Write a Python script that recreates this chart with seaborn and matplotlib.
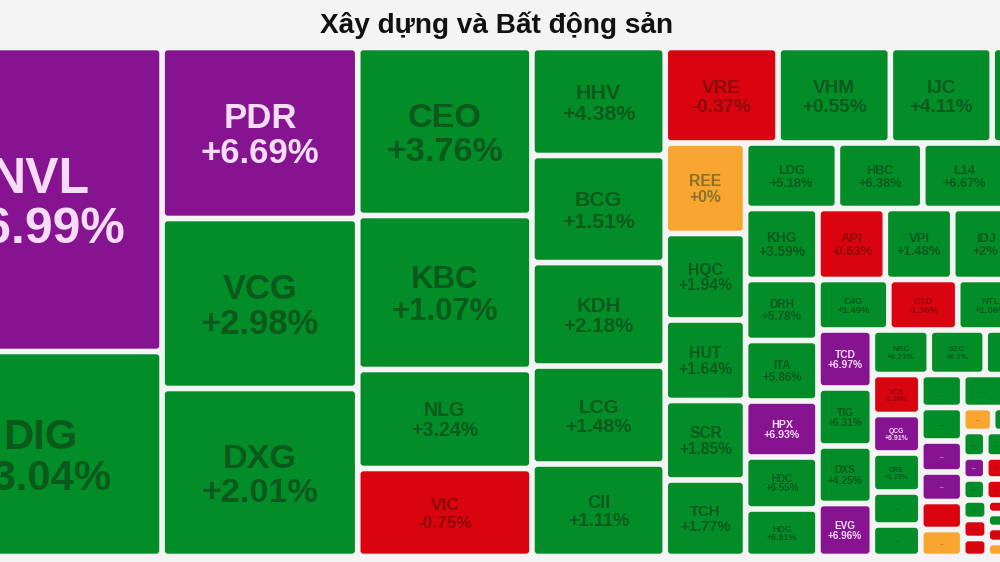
import numpy as np
import seaborn as sns
import matplotlib
matplotlib.use("Agg")
import matplotlib.pyplot as plt
from matplotlib.patches import FancyBboxPatch

# ---------------- data ----------------
title = "Xây dựng và Bất động sản"

tickers = [
    "NVL", "DIG",
    "PDR", "VCG", "DXG",
    "CEO", "KBC", "NLG", "VIC",
    "HHV", "BCG", "KDH", "LCG", "CII",
    "VRE", "VHM", "IJC", "…",
    "REE", "HQC", "HUT", "SCR", "TCH",
    "LDG", "HBC", "L14", "…",
    "KHG", "DRH", "ITA", "HPX", "HDC", "HDG",
    "API", "VPI", "IDJ", "…",
    "C4G", "CTD", "NTL", "…",
    "TCD", "TIG", "DXS", "EVG",
    "NRC", "SZC", "…", "…",
    "VCS", "QCG", "CRE", "…", "…",
    "…", "…", "…", "…", "…", "…",
    "…", "…", "…",
    "…", "…", "…", "…",
    "…", "…", "…", "…", "…",
    "…", "…", "…", "…", "…",
    "…", "…", "…", "…", "…",
    "…", "…", "…",
    "…", "…", "…", "…",
    "…", "…",
    "…", "…",
]

# relative size (market weight) of each tile
values = [
    74328, 50123,
    33516, 33320, 32928,
    29316, 26873, 17276, 15356,
    14420, 14300, 13817, 13083, 12349,
    10792, 10744, 9741, 8213,
    7285, 6963, 6480, 6400, 6158,
    6026, 5600, 5437, 4749,
    5148, 4423, 4386, 4060, 3770, 3444,
    4793, 4793, 4686, 4225,
    3586, 3485, 3333, 2752,
    3161, 3161, 3134, 2889,
    2537, 2492, 2069, 2069,
    1940, 1867, 1892, 1600, 1528,
    1386, 1407, 1302, 1239, 1176, 1134,
    1386, 1213, 1212,
    720, 660, 696, 696,
    589, 589, 589, 589, 589,
    508, 508, 508, 508, 508,
    485, 485, 485, 485, 485,
    478, 466, 441,
    284, 294, 315, 294,
    989, 989,
    989, 989,
]

nan = float("nan")
changes = [
    6.99, 3.04,
    6.69, 2.98, 2.01,
    3.76, 1.07, 3.24, -0.75,
    4.38, 1.51, 2.18, 1.48, 1.11,
    -0.37, 0.55, 4.11, nan,
    0.0, 1.94, 1.64, 1.85, 1.77,
    5.18, 6.38, 6.67, nan,
    3.59, 5.78, 5.86, 6.93, 6.55, 6.81,
    -0.63, 1.48, 2.0, nan,
    1.49, -1.36, 1.06, nan,
    6.97, 6.31, 4.25, 6.96,
    6.23, 6.7, nan, nan,
    -1.38, 6.91, 1.19, nan, nan,
] + [nan] * 39

# market state of each tile: up / down / ref (unchanged) / ceil (ceiling price)
status = [
    "ceil", "up",
    "ceil", "up", "up",
    "up", "up", "up", "down",
    "up", "up", "up", "up", "up",
    "down", "up", "up", "up",
    "ref", "up", "up", "up", "up",
    "up", "up", "up", "up",
    "up", "up", "up", "ceil", "up", "up",
    "down", "up", "up", "up",
    "up", "down", "up", "up",
    "ceil", "up", "up", "ceil",
    "up", "up", "up", "up",
    "down", "ceil", "up", "up", "up",
    "up", "up", "ceil", "ceil", "down", "ref",
    "up", "up", "up",
    "ref", "up", "up", "up",
    "up", "up", "up", "up", "up",
    "ceil", "down", "down", "up", "up",
    "up", "down", "up", "up", "up",
    "up", "down", "down",
    "down", "up", "down", "ref",
    "up", "up",
    "up", "up",
]

# squarified strips: orientation ('v' column at left, 'h' row on top) and tile count
strips = [("v", 2), ("v", 3), ("v", 4), ("v", 5), ("h", 4), ("v", 5), ("h", 4),
          ("v", 6), ("h", 4), ("h", 4), ("v", 4), ("h", 4), ("v", 5), ("v", 6),
          ("h", 3), ("h", 4), ("h", 5), ("h", 5), ("h", 5), ("v", 3), ("v", 4),
          ("v", 2), ("v", 2)]

# ---------------- style ----------------
sns.set_theme(style="white")
plt.rcParams["font.family"] = ["Liberation Sans", "DejaVu Sans"]

BG = "#f4f4f4"
face_colors = {"up": "#028d29", "down": "#d90410", "ceil": "#861491", "ref": "#f8a630"}
text_colors = {"up": "#0b5a1c", "down": "#8e0a0a", "ceil": "#f6dcf6", "ref": "#8a7028"}

W, H, DPI = 1000, 562, 100
PX2PT = 72.0 / DPI

fig = plt.figure(figsize=(W / DPI, H / DPI), dpi=DPI, facecolor=BG)
ax = fig.add_axes([0, 0, 1, 1])
ax.set_facecolor(BG)
ax.set_xlim(0, W)
ax.set_ylim(H, 0)
ax.axis("off")

# treemap frame (pixel space of the figure); the map is wider than the view
X0, X1, Y0, Y1 = -82.0, 1078.0, 47.5, 556.5
GAP = 2.8


def strip_layout(vals, strip_spec, x0, y0, x1, y1):
    rects = []
    remaining = float(sum(vals))
    i = 0
    for orient, n in strip_spec:
        part = vals[i:i + n]
        s = float(sum(part))
        if orient == "v":
            w = (x1 - x0) * s / remaining
            y = y0
            for v in part:
                h = (y1 - y0) * v / s
                rects.append((x0, y, w, h))
                y += h
            x0 += w
        else:
            h = (y1 - y0) * s / remaining
            x = x0
            for v in part:
                w = (x1 - x0) * v / s
                rects.append((x, y0, w, h))
                x += w
            y0 += h
        remaining -= s
        i += n
    return rects


def fmt_change(c):
    s = f"{abs(c):.2f}".rstrip("0").rstrip(".")
    return ("-" if c < 0 else "+") + s + "%"


rects = strip_layout(values, strips, X0, Y0, X1, Y1)

for (x, y, w, h), tk, ch, st in zip(rects, tickers, changes, status):
    ix, iy, iw, ih = x + GAP, y + GAP, w - 2 * GAP, h - 2 * GAP
    ax.add_patch(FancyBboxPatch((ix, iy), iw, ih,
                                boxstyle="round,pad=0,rounding_size=3",
                                facecolor=face_colors[st], edgecolor="none"))
    cx, cy = ix + iw / 2, iy + ih / 2
    tc = text_colors[st]
    m = min(iw, ih)
    if tk == "…" or m < 30:
        if m >= 10:
            ax.text(cx, cy, "...", ha="center", va="center", color=tc,
                    fontsize=6 * PX2PT, fontweight="bold", alpha=0.8)
        continue
    label2 = fmt_change(ch)
    longest = max(len(tk), len(label2))
    F = min(0.21 * m, 50.0, 0.92 * iw / (0.58 * longest))
    b1 = cy - 0.13 * F
    b2 = b1 + 1.0 * F
    ax.text(cx, b1, tk, ha="center", va="baseline", color=tc,
            fontsize=F * PX2PT, fontweight="bold")
    ax.text(cx, b2, label2, ha="center", va="baseline", color=tc,
            fontsize=F * PX2PT, fontweight="bold")

ax.text(497, 25, title, ha="center", va="center", color="#111111",
        fontsize=28 * PX2PT, fontweight="bold")

fig.savefig("out.png", dpi=DPI, facecolor=BG)
